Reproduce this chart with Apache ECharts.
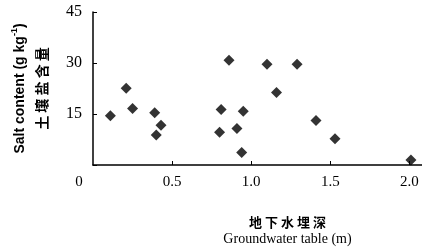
<!DOCTYPE html>
<html>
<head>
<meta charset="utf-8">
<script src="https://cdn.jsdelivr.net/npm/echarts@6/dist/echarts.min.js"></script>
<style>
  html, body { margin: 0; padding: 0; background: #fff; }
  #chart { width: 422px; height: 249px; }
</style>
</head>
<body>
<div id="chart"></div>
<script>
// 地下水埋深 (m)
const depth = [0.11, 0.21, 0.25, 0.39, 0.43, 0.40, 0.86, 0.81, 0.80, 0.95, 0.91, 0.94, 1.10, 1.29, 1.16, 1.41, 1.53, 2.01];
// 土壤盐含量 (g/kg)
const salt = [14.5, 22.6, 16.6, 15.4, 11.7, 8.8, 30.8, 16.3, 9.6, 15.8, 10.7, 3.7, 29.6, 29.6, 21.3, 13.1, 7.7, 1.5];
const xLabels = [0, 0.5, 1, 1.5, 2];

const serif = "Liberation Serif";
const chart = echarts.init(document.getElementById("chart"));

const option = {
  animation: false,
  grid: { left: 93, top: 12, right: 0, bottom: 84, outerBoundsMode: "none", containLabel: false },
  xAxis: {
    type: "value",
    min: 0,
    max: 2.08,
    axisLine: { lineStyle: { color: "#000", width: 1.5 } },
    axisTick: {
      inside: true,
      length: 4,
      customValues: xLabels.slice(1),
      lineStyle: { color: "#000" },
    },
    splitLine: { show: false },
    axisLabel: {
      customValues: xLabels,
      margin: 10,
      fontFamily: serif,
      fontSize: 15,
      color: "#000",
      formatter: function (v) {
        if (v === 0) return "{o|0}";
        return v.toFixed(1);
      },
      rich: {
        o: { fontFamily: serif, fontSize: 15, color: "#000", padding: [0, 28, 0, 0] },
      },
    },
    name: "{cn|地 下 水 埋 深}\n{en|Groundwater table (m)}",
    nameLocation: "middle",
    nameGap: 49,
    nameTextStyle: {
      color: "#000",
      lineHeight: 17,
      padding: [0, 0, 0, 60],
      rich: {
        cn: { fontFamily: "Noto Sans CJK SC", fontWeight: "bold", fontSize: 13, color: "#000", lineHeight: 17 },
        en: { fontFamily: serif, fontSize: 14, color: "#000", lineHeight: 17 },
      },
    },
  },
  yAxis: {
    type: "value",
    min: 0,
    max: 45,
    interval: 15,
    axisLine: { show: true, lineStyle: { color: "#000", width: 1.5 } },
    axisTick: { show: true, inside: true, length: 4, lineStyle: { color: "#000" } },
    splitLine: { show: false },
    axisLabel: {
      margin: 11,
      fontFamily: serif,
      fontSize: 16,
      color: "#000",
      formatter: function (v) {
        return v === 0 ? "" : String(v);
      },
    },
    name: "{en|Salt content (g kg}{sup|-1}{en|)}\n{cn|土 壤 盐 含 量}",
    nameLocation: "middle",
    nameGap: 41,
    nameTextStyle: {
      color: "#000",
      lineHeight: 21,
      rich: {
        en: { fontFamily: "Liberation Sans", fontWeight: "bold", fontSize: 14, color: "#000", lineHeight: 21 },
        sup: { fontFamily: "Liberation Sans", fontWeight: "bold", fontSize: 9, color: "#000", verticalAlign: "top", lineHeight: 21 },
        cn: { fontFamily: "Noto Sans CJK SC", fontWeight: "bold", fontSize: 14, color: "#000", lineHeight: 21 },
      },
    },
  },
  series: [
    {
      type: "scatter",
      symbol: "diamond",
      symbolSize: 11,
      itemStyle: { color: "#000" },
      data: depth.map((d, i) => [d, salt[i]]),
    },
  ],
};

chart.setOption(option);
</script>
</body>
</html>
